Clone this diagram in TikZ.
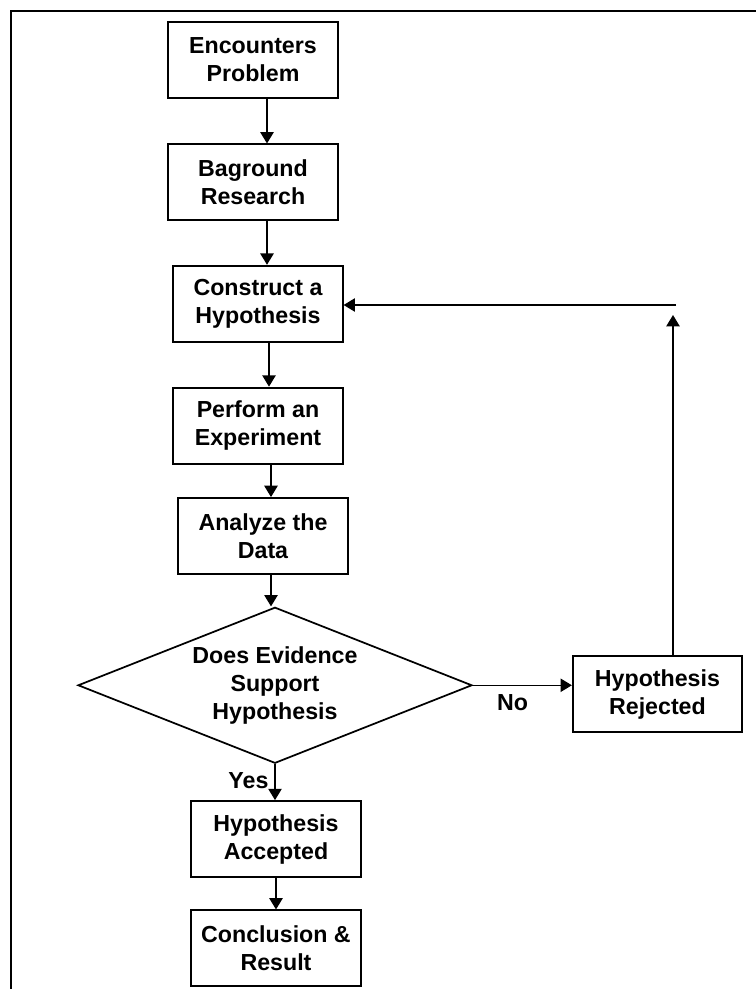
\documentclass[tikz,border=0pt]{standalone}
\usepackage{fontspec}
\setmainfont{Liberation Sans}
\usetikzlibrary{positioning, arrows.meta, shapes}

\begin{document}
\begin{tikzpicture}[x=0.75pt, y=-0.75pt, font=\bfseries\fontsize{17.4}{21}\selectfont,
    box/.style={draw, line width=1.4pt, align=center, minimum width=127pt,
                minimum height=57pt, inner sep=2pt},
    decision/.style={draw, diamond, line width=1.3pt, align=center, aspect=2.5,
                     minimum width=295.5pt, minimum height=117pt, inner sep=0pt},
    flow/.style={-{Triangle[width=10pt, length=8.5pt]}, line width=1.1pt}]
  \useasboundingbox (0,0) rectangle (756,989);
  \draw[line width=1.6pt] (11,989) -- (11,11) -- (756,11);

  \node[box] (prob) at (253,60) {Encounters\\Problem};
  \node[box, below=33.4pt of prob] (res) {Baground\\Research};
  \node[box, below=32.6pt of res, xshift=3.75pt] (hyp) {Construct a\\Hypothesis};
  \node[box, below=33pt of hyp] (exp) {Perform an\\Experiment};
  \node[box, below=24.4pt of exp, xshift=3.75pt] (ana) {Analyze the\\Data};
  \node[decision, below=23.6pt of ana, xshift=9pt] (dec) {Does Evidence\\Support\\Hypothesis};
  \node[box, below=27pt of dec, xshift=0.75pt] (acc) {Hypothesis\\Accepted};
  \node[box, below=23.6pt of acc] (con) {Conclusion \&\\Result};
  \node[box, right=74.25pt of dec, yshift=-6.75pt] (rej) {Hypothesis\\Rejected};

  % main line
  \foreach \a/\b/\s in {prob/res/10.5pt, res/hyp/10.5pt, hyp/exp/8.25pt,
                        exp/ana/9.75pt, ana/dec/6pt}
    \draw[flow] ([xshift=\s]\a.south) -- ([xshift=\s]\a.south |- \b.north);
  \draw[flow] (dec.south) -- (dec.south |- acc.north)
    node[pos=0.45, left=1pt] {Yes};
  \draw[flow] (acc.south) -- (con.north);
  \draw[flow] (dec.east) -- (dec.east -| rej.west)
    node[pos=0.4, below=3pt] {No};

  % back to the hypothesis
  \coordinate (up) at (673,315);
  \coordinate (back) at (676,305);
  \draw[flow] (rej.north -| up) -- (up);
  \draw[flow] (back) -- (back -| hyp.east);
\end{tikzpicture}
\end{document}
